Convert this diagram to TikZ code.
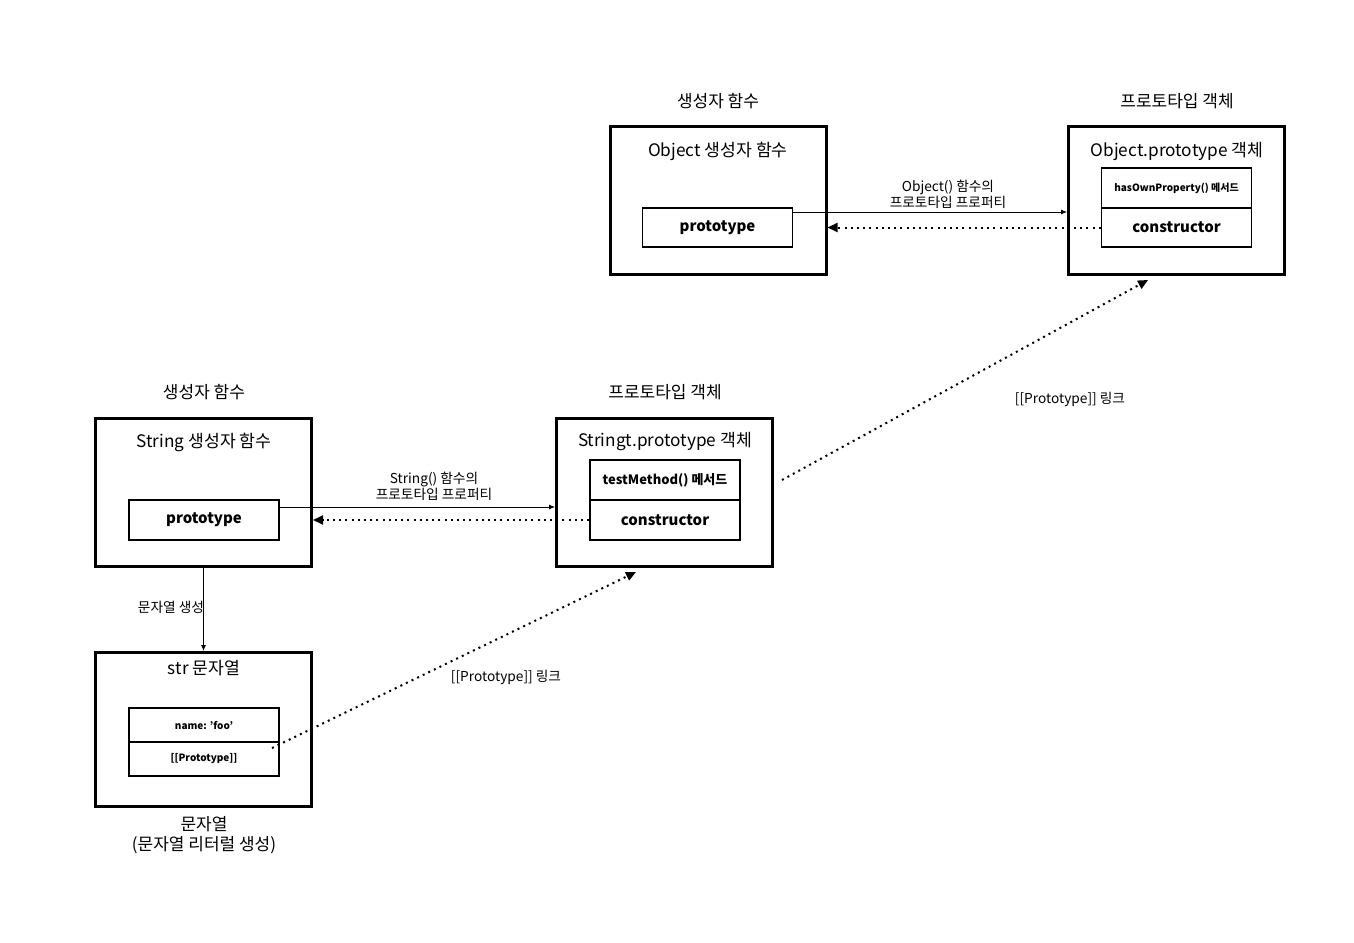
\documentclass[tikz,border=0pt]{standalone}
\usepackage{fontspec}
\setmainfont{Noto Sans CJK KR}
\usetikzlibrary{arrows.meta}

\tikzset{
  outerbox/.style={draw, line width=3pt, minimum width=216pt, minimum height=148pt},
  cellbox/.style={draw, line width=1.5pt, minimum width=150pt, font=\bfseries\fontsize{15}{17}\selectfont},
  smallcell/.style={cellbox, font=\bfseries\fontsize{10}{12}\selectfont},
  boxtitle/.style={font=\fontsize{17.2}{20}\selectfont},
  headtitle/.style={font=\fontsize{17}{20}\selectfont},
  linklabel/.style={font=\fontsize{13.7}{16}\selectfont, align=center},
  solidarrow/.style={-{Latex[length=6pt,width=5pt]}, line width=0.8pt},
  dotarrow/.style={-{Triangle[length=10pt,width=9pt]}, line width=2pt, dash pattern=on 2pt off 4.2pt}
}

\begin{document}
\begin{tikzpicture}[x=1pt, y=-1pt]
            \useasboundingbox (0,0) rectangle (1354,942);

            % Object side
            \node[headtitle] (ohead) at (718,101) {생성자 함수};
            \node[headtitle] (phead) at (1177,101) {프로토타입 객체};

            \node[outerbox] (ofn) at (718,200.5) {};
            \node[boxtitle] (ofntitle) at (718,151) {Object 생성자 함수};
            \node[cellbox, minimum height=39pt] (oproto) at (717.5,227.5) {prototype};

            \node[outerbox] (oobj) at (1176.5,200.5) {};
            \node[boxtitle] (oobjtitle) at (1177,151) {Object.prototype 객체};
            \node[smallcell, minimum height=40pt] (ohas) at (1176.5,188) {hasOwnProperty() 메서드};
            \node[cellbox, minimum height=39pt] (octor) at (1176.5,227.5) {constructor};

            \draw[solidarrow] ([yshift=15.5pt]oproto.east) -- ([yshift=15.5pt]oproto.east -| oobj.west);
            \node[linklabel] (olabel) at (948,194) {Object() 함수의\\프로토타입 프로퍼티};
            \draw[dotarrow] (octor.west) -- (octor.west -| ofn.east);

            % String side
            \node[headtitle] (shead) at (204,392) {생성자 함수};
            \node[headtitle] (sphead) at (665,392) {프로토타입 객체};

            \node[outerbox] (sfn) at (203.5,492.5) {};
            \node[boxtitle] (sfntitle) at (204,442) {String 생성자 함수};
            \node[cellbox, minimum height=40pt] (sproto) at (204,520) {prototype};

            \node[outerbox] (sobj) at (664.5,492.5) {};
            \node[boxtitle] (sobjtitle) at (665,442) {Stringt.prototype 객체};
            \node[smallcell, font=\bfseries\fontsize{13}{15}\selectfont, minimum height=40pt] (stest) at (665,480) {testMethod() 메서드};
            \node[cellbox, minimum height=40pt] (sctor) at (665,520) {constructor};

            \draw[solidarrow] ([yshift=13pt]sproto.east) -- ([yshift=13pt]sproto.east -| sobj.west);
            \node[linklabel] (slabel) at (434,486) {String() 함수의\\프로토타입 프로퍼티};
            \draw[dotarrow] (sctor.west) -- (sctor.west -| sfn.east);

            % str
            \node[outerbox, minimum height=154pt] (str) at (203.5,729.5) {};
            \node[boxtitle] (strtitle) at (204,668) {str 문자열};
            \node[smallcell, minimum height=34pt] (sname) at (204,725) {name: \char39 foo\char39};
            \node[smallcell, minimum height=34pt] (sslot) at (204,759) {[[Prototype]]};
            \node[boxtitle, align=center, font=\fontsize{17}{20}\selectfont] (strcap) at (204,835) {문자열\\(문자열 리터럴 생성)};

            \draw[solidarrow] (sfn.south) -- (str.north);
            \node[linklabel] (mklabel) at (171,607) {문자열 생성};

            % prototype links
            \coordinate (lstart) at (272,748);
            \draw[dotarrow] (lstart) -- ([xshift=-28.5pt,yshift=-4pt]sobj.south);
            \node[linklabel] (llabel) at (506,677) {[[Prototype]] 링크};

            \draw[dotarrow] ([xshift=8pt,yshift=12.5pt]sobj.east) -- ([xshift=-28.5pt,yshift=-4pt]oobj.south);
            \node[linklabel] (ulabel) at (1070,399) {[[Prototype]] 링크};
\end{tikzpicture}
\end{document}
